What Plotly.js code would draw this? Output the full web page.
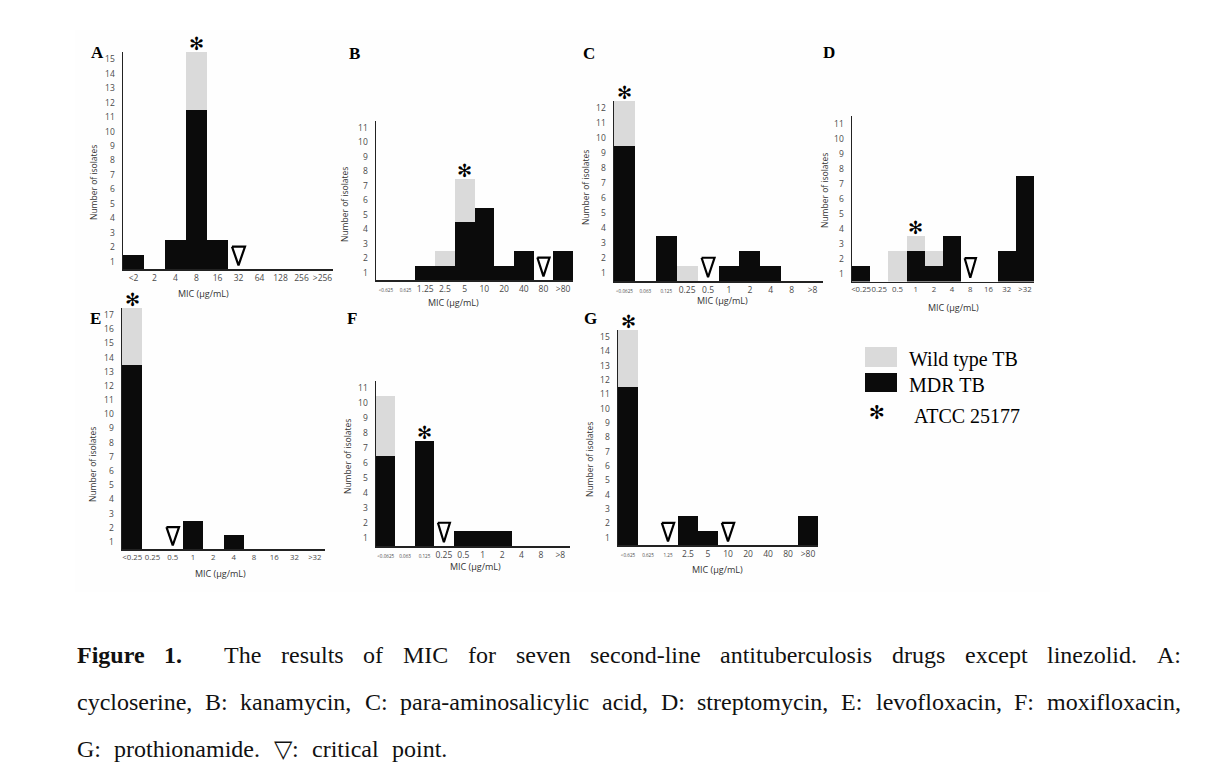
<!DOCTYPE html>
<html><head><meta charset="utf-8">
<script src="https://cdn.plot.ly/plotly-3.0.1.min.js"></script>
<style>html,body{margin:0;padding:0;background:#fff}#chart{width:1230px;height:779px}</style>
</head><body><div id="chart"></div>
<script>
// ---------- data ----------
const catsA = ['<2','2','4','8','16','32','64','128','256','>256'];
const mdrA  = [1,0,2,11,2,0,0,0,0,0];
const wildA = [0,0,0,4,0,0,0,0,0,0];
const atccA = '8';
const critA = ['32'];

const catsB = ['<0.625','0.625','1.25','2.5','5','10','20','40','80','>80'];
const mdrB  = [0,0,1,1,4,5,1,2,0,2];
const wildB = [0,0,0,1,3,0,0,0,0,0];
const atccB = '5';
const critB = ['80'];

const catsC = ['<0.0625','0.063','0.125','0.25','0.5','1','2','4','8','>8'];
const mdrC  = [9,0,3,0,0,1,2,1,0,0];
const wildC = [3,0,0,1,0,0,0,0,0,0];
const atccC = '<0.0625';
const critC = ['0.5'];

const catsD = ['<0.25','0.25','0.5','1','2','4','8','16','32','>32'];
const mdrD  = [1,0,0,2,1,3,0,0,2,7];
const wildD = [0,0,2,1,1,0,0,0,0,0];
const atccD = '1';
const critD = ['8'];

const catsE = ['<0.25','0.25','0.5','1','2','4','8','16','32','>32'];
const mdrE  = [13,0,0,2,0,1,0,0,0,0];
const wildE = [4,0,0,0,0,0,0,0,0,0];
const atccE = '<0.25';
const critE = ['0.5'];

const catsF = ['<0.0625','0.063','0.125','0.25','0.5','1','2','4','8','>8'];
const mdrF  = [6,0,7,0,1,1,1,0,0,0];
const wildF = [4,0,0,0,0,0,0,0,0,0];
const atccF = '0.125';
const critF = ['0.25'];

const catsG = ['<0.625','0.625','1.25','2.5','5','10','20','40','80','>80'];
const mdrG  = [11,0,0,2,1,0,0,0,0,2];
const wildG = [4,0,0,0,0,0,0,0,0,0];
const atccG = '<0.625';
const critG = ['1.25','10'];

const legendLabels = ['Wild type TB','MDR TB','ATCC 25177'];
const yTitle = 'Number of isolates';
const xTitle = 'MIC (μg/mL)';
const captionLine1 = ['Figure','1.','The','results','of','MIC','for','seven','second-line','antituberculosis','drugs','except','linezolid.','A:'];
const captionLine2 = ['cycloserine,','B:','kanamycin,','C:','para-aminosalicylic','acid,','D:','streptomycin,','E:','levofloxacin,','F:','moxifloxacin,'];
const captionLine3 = ['G:','prothionamide.','▽:','critical','point.'];

// ---------- layout config (pixels) ----------
const W = 1230, H = 779;
const panels = [
  {L:'A', cats:catsA, mdr:mdrA, wild:wildA, atcc:atccA, crit:critA, ymax:15, small:0, tf:8.5, g:[123,333,269,52],   letter:[97,53],  yt:[93,183],  xt:[203,293]},
  {L:'B', cats:catsB, mdr:mdrB, wild:wildB, atcc:atccB, crit:critB, ymax:11, small:2, tf:8.5, g:[376,573,280,120.5], letter:[354,54], yt:[345,205], xt:[453,303]},
  {L:'C', cats:catsC, mdr:mdrC, wild:wildC, atcc:atccC, crit:critC, ymax:12, small:3, tf:8.5, g:[614,823,281,101],  letter:[589,54], yt:[585,188], xt:[722,300]},
  {L:'D', cats:catsD, mdr:mdrD, wild:wildD, atcc:atccD, crit:critD, ymax:11, small:0, tf:7.8, g:[852,1034,281.5,116], letter:[829,52], yt:[825,191], xt:[953,307]},
  {L:'E', cats:catsE, mdr:mdrE, wild:wildE, atcc:atccE, crit:critE, ymax:17, small:0, tf:7.8, g:[122,325,549,308],  letter:[95,318], yt:[92,465],  xt:[220,573]},
  {L:'F', cats:catsF, mdr:mdrF, wild:wildF, atcc:atccF, crit:critF, ymax:11, small:3, tf:8.5, g:[376,570,546,381],  letter:[352,318],yt:[347,457], xt:[475,566]},
  {L:'G', cats:catsG, mdr:mdrG, wild:wildG, atcc:atccG, crit:critG, ymax:15, small:3, tf:8.5, g:[618,818,545,330],  letter:[590,318],yt:[589,460], xt:[717,569]}
];

const px = x => x / W;
const py = y => 1 - y / H;
const esc = s => s.replace(/</g,'&lt;').replace(/>/g,'&gt;');
const BLACK = '#0b0b0b', GREY = '#dadada';
const tickFam = 'Open Sans, DejaVu Sans, sans-serif';

const traces = [];
const layout = {
  width: W, height: H, margin:{l:0,r:0,t:0,b:0},
  paper_bgcolor:'#ffffff', plot_bgcolor:'rgba(0,0,0,0)',
  barmode:'stack', bargap:0, showlegend:false,
  annotations:[], shapes:[]
};

// very faint background of the figure area
layout.shapes.push({type:'rect', xref:'paper', yref:'paper', x0:px(75), x1:px(1050), y0:py(592), y1:py(30),
  fillcolor:'#fefefe', line:{width:0}, layer:'below'});

panels.forEach((p, k) => {
  const n = k === 0 ? '' : String(k+1);
  const xa = 'x'+n, ya = 'y'+n;
  const idx = p.cats.map((_, i) => i);
  const [x0, x1, yb, yt] = p.g;
  layout['xaxis'+n] = {
    domain:[px(x0), px(x1)], anchor:ya, range:[-0.5, p.cats.length-0.5],
    tickvals: idx,
    ticktext: p.cats.map((c,i) => i < p.small ? '<span style="font-size:4.6px">'+esc(c)+'</span>' : esc(c)),
    tickfont: {family:tickFam, size:p.tf, color:'#4a4a4a'}, tickangle:0,
    showline:true, linecolor:'#222', linewidth:1.5,
    showgrid:false, zeroline:false, ticks:'', ticklen:0, fixedrange:true, ticklabelstandoff:0
  };
  const yv = [], ytx = [];
  for (let v = 1; v <= p.ymax; v++) { yv.push(v-0.5); ytx.push(String(v)); }
  layout['yaxis'+n] = {
    domain:[py(yb), py(yt)], anchor:xa, range:[0, p.ymax],
    tickvals: yv, ticktext: ytx, tickfont: {family:tickFam, size:8.5, color:'#4a4a4a'},
    showline:true, linecolor:'#222', linewidth:1.5,
    showgrid:false, zeroline:false, ticks:'', ticklen:0, fixedrange:true, ticklabelstandoff:5
  };
  traces.push({type:'bar', x:idx, y:p.mdr, xaxis:xa, yaxis:ya, name:'MDR TB',
    marker:{color:BLACK, line:{width:0}}, width:1, hoverinfo:'skip'});
  traces.push({type:'bar', x:idx, y:p.wild, xaxis:xa, yaxis:ya, name:'Wild type TB',
    marker:{color:GREY, line:{width:0}}, width:1, hoverinfo:'skip'});
  // critical point triangles
  const tx = [], ty = [];
  p.crit.forEach(c => {
    const i = p.cats.indexOf(c);
    tx.push(i-0.31, i+0.31, i, i-0.31, null);
    ty.push(1.55, 1.55, 0.25, 1.55, null);
  });
  traces.push({type:'scatter', mode:'lines', x:tx, y:ty, xaxis:xa, yaxis:ya,
    line:{color:'#000', width:2.2}, hoverinfo:'skip', cliponaxis:false});
  // ATCC asterisk
  const ai = p.cats.indexOf(p.atcc);
  layout.annotations.push({xref:xa, yref:ya, x:ai, y:p.mdr[ai]+p.wild[ai], text:'✻',
    showarrow:false, yanchor:'bottom', yshift:-4, font:{family:'DejaVu Sans', size:18, color:'#000'}});
  // panel letter
  layout.annotations.push({xref:'paper', yref:'paper', x:px(p.letter[0]), y:py(p.letter[1]), text:'<b>'+p.L+'</b>',
    showarrow:false, xanchor:'center', yanchor:'middle', font:{family:'Liberation Serif, serif', size:17, color:'#000'}});
  // axis titles
  layout.annotations.push({xref:'paper', yref:'paper', x:px(p.yt[0]), y:py(p.yt[1]), text:yTitle, textangle:-90,
    showarrow:false, xanchor:'center', yanchor:'middle', font:{family:tickFam, size:8.5, color:'#333'}});
  layout.annotations.push({xref:'paper', yref:'paper', x:px(p.xt[0]), y:py(p.xt[1]), text:esc(xTitle),
    showarrow:false, xanchor:'center', yanchor:'middle', font:{family:tickFam, size:9, color:'#333'}});
});

// ---------- legend ----------
const legFont = {family:'Liberation Serif, serif', size:20, color:'#000'};
layout.shapes.push({type:'rect', xref:'paper', yref:'paper', x0:px(865), x1:px(897), y0:py(367), y1:py(347), fillcolor:GREY, line:{width:0}});
layout.shapes.push({type:'rect', xref:'paper', yref:'paper', x0:px(865), x1:px(897), y0:py(392), y1:py(373), fillcolor:BLACK, line:{width:0}});
layout.annotations.push({xref:'paper', yref:'paper', x:px(907), y:py(359), text:legendLabels[0], showarrow:false, xanchor:'left', yanchor:'middle', font:legFont});
layout.annotations.push({xref:'paper', yref:'paper', x:px(907), y:py(385), text:legendLabels[1], showarrow:false, xanchor:'left', yanchor:'middle', font:legFont});
layout.annotations.push({xref:'paper', yref:'paper', x:px(912), y:py(416), text:legendLabels[2], showarrow:false, xanchor:'left', yanchor:'middle', font:legFont});
layout.annotations.push({xref:'paper', yref:'paper', x:px(877), y:py(412), text:'✻', showarrow:false, xanchor:'center', yanchor:'middle', font:{family:'DejaVu Sans', size:19, color:'#000'}});

// ---------- caption (justified) ----------
const capSize = 24, capFam = "'Liberation Serif'";
const cv = document.createElement('canvas').getContext('2d');
function measure(w, bold) { cv.font = (bold ? 'bold ' : '') + capSize + 'px ' + capFam; return cv.measureText(w).width; }
function justify(words, boldN, yPix, xL, xR, weights) {
  const ws = words.map((w,i) => measure(w, i < boldN));
  const sum = ws.reduce((a,b)=>a+b,0);
  const wsum = weights.reduce((a,b)=>a+b,0);
  const unit = Math.max(4, (xR - xL - sum) / wsum);
  let x = xL;
  words.forEach((w,i) => {
    layout.annotations.push({xref:'paper', yref:'paper', x:px(x), y:py(yPix), text: i < boldN ? '<b>'+w+'</b>' : w,
      showarrow:false, xanchor:'left', yanchor:'middle', borderpad:0, borderwidth:0,
      font:{family:'Liberation Serif, serif', size:capSize, color:'#111'}});
    x += ws[i] + (i < weights.length ? weights[i]*unit : 0);
  });
}
const w1 = captionLine1.slice(1).map((_,i) => i === 1 ? 2.1 : 1);
justify(captionLine1, 2, 655, 77, 1181, w1);
justify(captionLine2, 0, 702, 77, 1181, captionLine2.slice(1).map(()=>1));
justify(captionLine3, 0, 749, 77, 447, captionLine3.slice(1).map(()=>1));

Plotly.newPlot('chart', traces, layout, {staticPlot:true, displayModeBar:false});
</script>
</body></html>
